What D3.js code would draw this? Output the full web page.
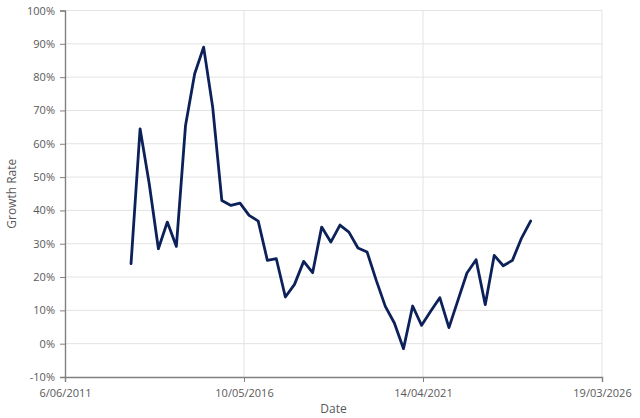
<!DOCTYPE html>
<html><head><meta charset="utf-8">
<script src="https://cdn.jsdelivr.net/npm/d3@7"></script>
<style>body{margin:0;background:#fff}text{font-family:"Open Sans",sans-serif}</style>
</head><body><svg id="c" width="640" height="418"></svg>
<script>
const dates = ["2013-03-31","2013-06-30","2013-09-30","2013-12-31","2014-03-31","2014-06-30","2014-09-30","2014-12-31","2015-03-31","2015-06-30","2015-09-30","2015-12-31","2016-03-31","2016-06-30","2016-09-30","2016-12-31","2017-03-31","2017-06-30","2017-09-30","2017-12-31","2018-03-31","2018-06-30","2018-09-30","2018-12-31","2019-03-31","2019-06-30","2019-09-30","2019-12-31","2020-03-31","2020-06-30","2020-09-30","2020-12-31","2021-03-31","2021-06-30","2021-09-30","2021-12-31","2022-03-31","2022-06-30","2022-09-30","2022-12-31","2023-03-31","2023-06-30","2023-09-30","2023-12-31","2024-03-31"];
const growth = [24.0,64.5,48.0,28.5,36.5,29.2,65.5,81.0,89.0,71.0,43.0,41.5,42.2,38.5,36.8,25.0,25.5,14.0,17.8,24.7,21.3,35.0,30.5,35.6,33.5,28.7,27.5,19.0,11.2,6.2,-1.5,11.3,5.5,9.7,13.8,4.8,13.0,21.2,25.2,11.7,26.5,23.4,25.0,31.7,36.8];
const xTickLabels = ["6/06/2011","10/05/2016","14/04/2021","19/03/2026"];
const yTicks = [-10,0,10,20,30,40,50,60,70,80,90,100];

const svg = d3.select("#c");
const L=65,R=602,T=10.5,B=377;
const pd = d3.timeParse("%Y-%m-%d");
const tp = d3.timeParse("%d/%m/%Y");
const xt = xTickLabels.map(tp);
const x = d3.scaleTime().domain([xt[0], xt[xt.length-1]]).range([L,R]);
const y = d3.scaleLinear().domain([-10,100]).range([B,T]);
const grid = "#e3e3e3", axisC="#808080", txt="#595959";

// horizontal gridlines
svg.append("g").selectAll("line").data(yTicks.filter(d=>d>-10)).join("line")
  .attr("x1",L).attr("x2",R).attr("y1",d=>y(d)).attr("y2",d=>y(d))
  .attr("stroke",grid).attr("stroke-width",1);
// vertical gridlines
svg.append("g").selectAll("line").data(xt.slice(1)).join("line")
  .attr("x1",d=>x(d)).attr("x2",d=>x(d)).attr("y1",T).attr("y2",B)
  .attr("stroke",grid).attr("stroke-width",1);

// y axis
const ya = svg.append("g").attr("transform",`translate(${L},0)`)
  .call(d3.axisLeft(y).tickValues(yTicks).tickFormat(d=>d+"%").tickSizeOuter(0).tickSize(5).tickPadding(5));
ya.select(".domain").attr("stroke",axisC).attr("stroke-width",1.4);
ya.selectAll(".tick line").attr("stroke",axisC);
ya.selectAll(".tick text").attr("fill",txt).style("font-size","11px").style("font-family","'Open Sans',sans-serif");

// x axis
const xa = svg.append("g").attr("transform",`translate(0,${B})`)
  .call(d3.axisBottom(x).tickValues(xt).tickFormat((d,i)=>xTickLabels[i]).tickSizeOuter(0).tickSize(5).tickPadding(7));
xa.select(".domain").attr("stroke",axisC).attr("stroke-width",1.4);
xa.selectAll(".tick line").attr("stroke",axisC);
xa.selectAll(".tick text").attr("fill",txt).style("font-size","11px").style("font-family","'Open Sans',sans-serif");

// line
const line = d3.line().x((d,i)=>x(pd(dates[i]))).y(d=>y(d));
svg.append("path").datum(growth).attr("d",line)
  .attr("fill","none").attr("stroke","#0c2159").attr("stroke-width",2.8)
  .attr("stroke-linejoin","round").attr("stroke-linecap","round");

// titles
svg.append("text").attr("x",(L+R)/2).attr("y",413).attr("text-anchor","middle")
  .attr("fill",txt).style("font-size","12px").text("Date");
svg.append("text").attr("transform",`translate(16,${(T+B)/2}) rotate(-90)`).attr("text-anchor","middle")
  .attr("fill",txt).style("font-size","12px").text("Growth Rate");
</script></body></html>
